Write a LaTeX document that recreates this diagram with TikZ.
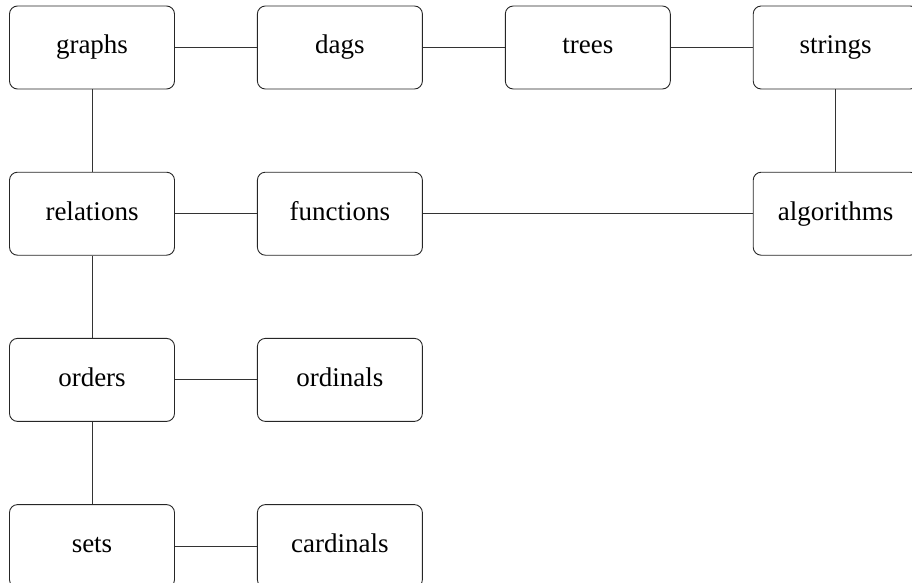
\documentclass[tikz,border=0pt]{standalone}
\usepackage{fontspec}
\setmainfont{Liberation Serif}
\usetikzlibrary{positioning}

\begin{document}
\begin{tikzpicture}[
		x=1pt, y=1pt,
		node distance=82.3pt and 82pt,
		% Define styles
		topic/.style={rectangle, rounded corners=8pt, draw=black!85, line width=0.9pt,
			minimum width=165pt, minimum height=83pt, align=center,
			text height=19pt, text depth=6pt,
			font=\fontsize{27}{33}\selectfont},
		link/.style={draw=black!80, line width=0.9pt}
		]
		\useasboundingbox (0,0) rectangle (912,-583);
		
		% 1. Top row
		\node[topic] (graphs) at (92,-47.5) {graphs};
		\node[topic, right=of graphs] (dags) {dags};
		\node[topic, right=of dags] (trees) {trees};
		\node[topic, right=of trees] (strings) {strings};
		
		% 2. Second row
		\node[topic, below=of graphs] (relations) {relations};
		\node[topic, right=of relations] (functions) {functions};
		\node[topic, below=of strings] (algorithms) {algorithms};
		
		% 3. Third row
		\node[topic, below=of relations] (orders) {orders};
		\node[topic, right=of orders] (ordinals) {ordinals};
		
		% 4. Bottom row
		\node[topic, below=of orders] (sets) {sets};
		\node[topic, right=of sets] (cardinals) {cardinals};
		
		% Connections
		\draw[link] (graphs) -- (dags);
		\draw[link] (dags) -- (trees);
		\draw[link] (trees) -- (strings);
		\draw[link] (graphs) -- (relations);
		\draw[link] (strings) -- (algorithms);
		\draw[link] (relations) -- (functions);
		\draw[link] (functions) -- (algorithms);
		\draw[link] (relations) -- (orders);
		\draw[link] (orders) -- (ordinals);
		\draw[link] (orders) -- (sets);
		\draw[link] (sets) -- (cardinals);
		
	\end{tikzpicture}
\end{document}
